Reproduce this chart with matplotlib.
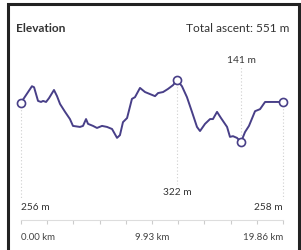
import numpy as np
import matplotlib
matplotlib.use("Agg")
import matplotlib.pyplot as plt
from matplotlib.lines import Line2D
from matplotlib.transforms import blended_transform_factory

plt.rcParams["font.family"] = ["Lato", "DejaVu Sans"]

# elevation profile (km, m)
dist_km = [0, 0.83, 0.99, 1.29, 1.52, 1.67, 1.90, 2.12, 2.50, 2.73, 2.96, 3.34, 3.71,
           3.94, 4.47, 4.70, 4.93, 5.08, 5.46, 5.76, 6.14, 6.52, 6.90, 7.28, 7.50, 7.73,
           8.04, 8.41, 8.64, 9.02, 9.40, 9.78, 10.16, 10.39, 10.77, 11.14, 11.52, 11.83,
           12.20, 12.58, 12.96, 13.34, 13.57, 13.95, 14.33, 14.55, 14.86, 15.16, 15.62,
           15.84, 16.07, 16.37, 16.68, 16.98, 17.28, 17.74, 18.12, 18.50, 18.88, 19.48,
           19.86]
elev_m = [256, 304, 301, 261, 258, 261, 258, 269, 293, 275, 252, 229, 208, 188, 185,
          188, 208, 194, 188, 182, 188, 185, 179, 153, 161, 199, 211, 267, 272, 299, 287,
          281, 275, 284, 287, 296, 307, 322, 304, 272, 229, 185, 173, 194, 208, 208, 229,
          211, 185, 156, 158, 153, 141, 170, 188, 231, 237, 258, 258, 258, 258]
total_km = 19.86
tick_labels = ["0.00 km", "9.93 km", "19.86 km"]
title = "Elevation"
ascent = "Total ascent: 551 m"

LINE = "#483f88"
GUIDE = "#cfcfcf"
TXT = "#333333"

W, H = 301, 251
fig = plt.figure(figsize=(W / 100, H / 100), dpi=100)
fig.patch.set_facecolor("white")

# axes placed so that the bottom spine sits at the tick row
ax = fig.add_axes([21 / W, 1 - 221 / H, 262 / W, 181 / H])
ax.set_xlim(0, total_km)
ylo, yhi = -87, 442
ax.set_ylim(ylo, yhi)
for s in ("top", "left", "right"):
    ax.spines[s].set_visible(False)
ax.spines["bottom"].set_color("#dddddd")
ax.spines["bottom"].set_linewidth(0.8)
ax.set_yticks([])

ticks = np.linspace(0, total_km, 11)
labels = [""] * 11
labels[0], labels[5], labels[10] = tick_labels
ax.set_xticks(ticks, labels=labels)
ax.tick_params(axis="x", direction="out", length=3, width=0.8, color="#cccccc",
               labelsize=7, labelcolor="#444444", pad=6)
xl = ax.get_xticklabels()
xl[0].set_ha("left")
xl[10].set_ha("right")

d = np.array(dist_km)
e = np.array(elev_m)
i_max, i_min = int(np.argmax(e)), int(np.argmin(e))


def frac_y(f):
    return ylo + f * (yhi - ylo)


# dotted guides
guides = [(0, e[0], frac_y(0.116)), (len(d) - 1, e[-1], frac_y(0.116)),
          (i_max, e[i_max], frac_y(0.2)), (i_min, e[i_min], frac_y(0.845))]
for i, y0, y1 in guides:
    ax.plot([d[i], d[i]], [y0, y1], ls=(0, (1, 2)), color=GUIDE, lw=0.8, zorder=1,
            clip_on=False)

ax.plot(d, e, color=LINE, lw=1.4, zorder=3, clip_on=False)
for i in (0, len(d) - 1, i_max, i_min):
    ax.plot(d[i], e[i], "o", ms=5.8, mfc="white", mec=LINE, mew=1.2, zorder=4,
            clip_on=False)

tr = blended_transform_factory(ax.transData, ax.transAxes)
fs = 7.3
ax.text(d[0], 0.077, f"{e[0]} m", transform=tr, ha="left", va="center",
        fontsize=fs, color=TXT)
ax.text(d[-1], 0.077, f"{e[-1]} m", transform=tr, ha="right", va="center",
        fontsize=fs, color=TXT)
ax.text(d[i_max], 0.155, f"{e[i_max]} m", transform=tr, ha="center", va="center",
        fontsize=fs, color=TXT)
ax.text(d[i_min], 0.884, f"{e[i_min]} m", transform=tr, ha="center", va="center",
        fontsize=fs, color=TXT)

fig.text(16 / W, 1 - 28 / H, title, ha="left", va="center", fontsize=8.6,
         fontweight="bold", color=TXT)
fig.text(289 / W, 1 - 28 / H, ascent, ha="right", va="center", fontsize=8.6,
         color=TXT)

# dark frame (left, top, right)
fx = lambda px: px / W
fy = lambda py: 1 - py / H
fig.add_artist(Line2D([fx(7.5), fx(7.5), fx(298.5), fx(298.5)],
                      [fy(H + 5), fy(4.5), fy(4.5), fy(H + 5)],
                      color="#222222", lw=2.2, solid_joinstyle="miter"))

fig.savefig("out.png", dpi=100)
